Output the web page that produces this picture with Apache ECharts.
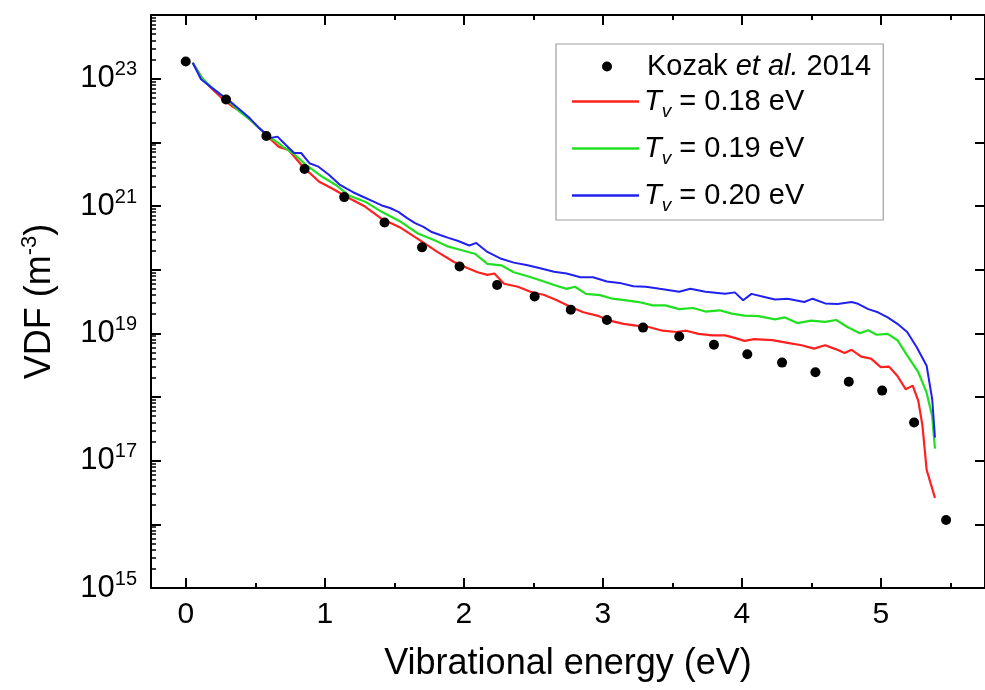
<!DOCTYPE html>
<html>
<head>
<meta charset="utf-8">
<script src="https://cdn.jsdelivr.net/npm/echarts@6.0.0/dist/echarts.min.js"></script>
<style>
html,body{margin:0;padding:0;background:#fff;}
#chart{width:985px;height:690px;}
</style>
</head>
<body>
<div id="chart"></div>
<script>
// ---- Data ----
var kozakEnergy = [0, 0.29, 0.58, 0.855, 1.14, 1.43, 1.70, 1.97, 2.24, 2.51, 2.77, 3.03, 3.29, 3.55, 3.80, 4.04, 4.29, 4.53, 4.77, 5.01, 5.24, 5.47];
var kozakVdf = [1.86e23, 4.7e22, 1.26e22, 3.8e21, 1.38e21, 5.5e20, 2.24e20, 1.12e20, 5.75e19, 3.8e19, 2.34e19, 1.62e19, 1.23e19, 8.9e18, 6.6e18, 4.7e18, 3.47e18, 2.45e18, 1.74e18, 1.26e18, 3.98e17, 1.17e16];

var t018Energy = [0.05,0.12,0.19,0.27,0.34,0.41,0.47,0.53,0.60,0.67,0.74,0.84,0.96,1.05,1.17,1.29,1.41,1.55,1.70,1.81,1.93,2.03,2.10,2.17,2.22,2.29,2.39,2.48,2.58,2.67,2.77,2.86,2.96,3.05,3.15,3.24,3.33,3.43,3.53,3.60,3.69,3.79,3.88,3.95,4.02,4.09,4.22,4.33,4.43,4.52,4.60,4.68,4.74,4.79,4.86,4.93,5.00,5.06,5.12,5.18,5.23,5.27,5.30,5.33,5.39];
var t018Vdf = [1.78e23,1.0e23,6.9e22,4.7e22,3.6e22,2.9e22,2.2e22,1.66e22,1.17e22,8.5e21,7.6e21,4.2e21,2.4e21,1.9e21,1.35e21,9.8e20,6.3e20,4.5e20,2.75e20,1.9e20,1.32e20,1.05e20,9.1e19,8.3e19,8.7e19,6.0e19,5.4e19,4.5e19,4.0e19,3.3e19,2.6e19,2.14e19,1.9e19,1.58e19,1.41e19,1.32e19,1.26e19,1.1e19,1.05e19,1.1e19,9.8e18,9.3e18,9.3e18,8.5e18,7.6e18,8.1e18,7.8e18,7.1e18,6.5e18,5.75e18,6.5e18,5.6e18,4.9e18,5.5e18,4.3e18,4.0e18,2.95e18,3.0e18,2.14e18,1.32e18,1.51e18,8.7e17,3.55e17,7.2e16,2.6e16];

var t019Energy = [0.05,0.12,0.19,0.27,0.33,0.39,0.46,0.53,0.60,0.66,0.70,0.77,0.86,0.98,1.08,1.17,1.29,1.41,1.55,1.67,1.79,1.89,1.98,2.08,2.17,2.27,2.36,2.46,2.55,2.65,2.74,2.80,2.88,2.98,3.07,3.17,3.26,3.36,3.45,3.55,3.65,3.74,3.84,3.93,4.02,4.12,4.24,4.31,4.40,4.50,4.60,4.68,4.76,4.85,4.91,4.97,5.05,5.12,5.19,5.27,5.33,5.37,5.39];
var t019Vdf = [1.78e23,1.0e23,7.2e22,5.25e22,4.0e22,3.0e22,2.3e22,1.66e22,1.2e22,1.0e22,8.5e21,6.8e21,4.5e21,2.9e21,2.14e21,1.48e21,1.17e21,8.1e20,5.6e20,3.7e20,2.9e20,2.3e20,2.04e20,1.78e20,1.23e20,1.17e20,9.1e19,7.9e19,6.8e19,5.75e19,5.0e19,5.4e19,4.17e19,3.98e19,3.5e19,3.3e19,3.1e19,2.75e19,2.75e19,2.4e19,2.5e19,2.2e19,2.3e19,2.04e19,1.9e19,1.86e19,1.66e19,1.78e19,1.45e19,1.58e19,1.51e19,1.62e19,1.26e19,1.0e19,1.12e19,9.5e18,9.8e18,7.8e18,4.5e18,2.45e18,1.17e18,5.0e17,1.55e17];

var t020Energy = [0.05,0.11,0.19,0.27,0.33,0.39,0.46,0.53,0.61,0.66,0.72,0.78,0.83,0.89,0.95,1.03,1.11,1.20,1.27,1.34,1.41,1.47,1.53,1.59,1.65,1.71,1.77,1.83,1.89,1.96,2.04,2.09,2.17,2.27,2.36,2.46,2.55,2.65,2.74,2.84,2.93,3.03,3.12,3.22,3.31,3.41,3.55,3.63,3.74,3.88,3.95,4.01,4.07,4.17,4.24,4.33,4.45,4.51,4.60,4.69,4.79,4.83,4.91,4.98,5.05,5.12,5.19,5.26,5.33,5.37,5.39];
var t020Vdf = [1.78e23,9.8e22,7.1e22,5.25e22,4.2e22,3.24e22,2.4e22,1.66e22,1.17e22,1.23e22,9.1e21,6.8e21,6.8e21,4.7e21,4.2e21,3.1e21,2.14e21,1.66e21,1.41e21,1.2e21,1.02e21,9.3e20,8.1e20,6.5e20,5.4e20,4.7e20,3.9e20,3.5e20,3.16e20,2.82e20,2.4e20,2.63e20,1.9e20,1.48e20,1.29e20,1.17e20,1.05e20,9.3e19,8.7e19,7.6e19,7.6e19,6.5e19,6.2e19,5.5e19,5.4e19,5.0e19,4.5e19,5.0e19,4.5e19,4.17e19,4.4e19,3.3e19,4.17e19,3.7e19,3.4e19,3.5e19,3.1e19,3.5e19,2.95e19,2.9e19,3.1e19,2.95e19,2.4e19,2.14e19,1.78e19,1.41e19,1.05e19,6.0e18,3.1e18,9.3e17,2.3e17];

var seriesNames = ['Kozak et al. 2014', 'Tv = 0.18 eV', 'Tv = 0.19 eV', 'Tv = 0.20 eV'];
var xMajorTicks = [0, 1, 2, 3, 4, 5];
var xMinorTicks = [0.5, 1.5, 2.5, 3.5, 4.5, 5.5];
var yDecadeTicks = [1e15, 1e16, 1e17, 1e18, 1e19, 1e20, 1e21, 1e22, 1e23, 1e24];
var yLabelTicks = [1e15, 1e17, 1e19, 1e21, 1e23];
var yMinorMultipliers = [2, 3, 4, 5, 6, 7, 8, 9];
var xAxisName = 'Vibrational energy (eV)';

function zip(xs, ys) { return xs.map(function (x, i) { return [x, ys[i]]; }); }

// minor log ticks (2..9 x 10^n) for the left axis
var yMinorTicks = [];
yDecadeTicks.slice(0, -1).forEach(function (d) {
  yMinorMultipliers.forEach(function (m) { yMinorTicks.push(m * d); });
});

var FONT = '"Liberation Sans", Arial, Helvetica, sans-serif';
var X_MIN = -0.25, X_MAX = 5.75;
var Y_MIN = 1e15, Y_MAX = 1e24;
var black = '#000';
var LINE_ICON = 'path://M0,0L67,0L67,2.5L0,2.5Z';
var RED = '#ff2020', GREEN = '#20e020', BLUE = '#2020f0';

function xAx(pos, ticks, len, labels, line) {
  return {
    type: 'value', position: pos, min: X_MIN, max: X_MAX, gridIndex: 0,
    axisLine: { show: line, onZero: false, lineStyle: { color: black, width: 2 } },
    axisTick: { show: true, inside: true, length: len, customValues: ticks, lineStyle: { color: black, width: 2 } },
    axisLabel: labels ? { show: true, customValues: ticks, margin: 12, fontSize: 30, color: black, fontFamily: FONT } : { show: false },
    splitLine: { show: false }
  };
}
function yAx(pos, ticks, len, line) {
  return {
    type: 'log', logBase: 10, position: pos, min: Y_MIN, max: Y_MAX,
    axisLine: { show: line, onZero: false, lineStyle: { color: black, width: 2 } },
    axisTick: { show: true, inside: true, length: len, customValues: ticks, lineStyle: { color: black, width: len > 6 ? 2 : 1.5 } },
    axisLabel: { show: false },
    splitLine: { show: false }
  };
}

var legendRich = {
  k0: { fontFamily: FONT, fontSize: 29, color: black, padding: [0, 0, 0, 30] },
  k: { fontFamily: FONT, fontSize: 29, color: black },
  ki: { fontFamily: FONT, fontSize: 29, color: black, fontStyle: 'italic' },
  n: { fontFamily: FONT, fontSize: 29, color: black },
  ti: { fontFamily: FONT, fontSize: 29, color: black, fontStyle: 'italic' },
  sub: { fontFamily: FONT, fontSize: 19, color: black, fontStyle: 'italic', padding: [22, 0, 2, 0] }
};
function legendFormatter(name) {
  if (name === seriesNames[0]) return '{k0|Kozak }{ki|et al.}{k| 2014}';
  return '{ti|T}{sub|v}{n|' + name.replace('Tv', '') + '}';
}

var chart = echarts.init(document.getElementById('chart'), null, { renderer: 'canvas' });
var option = {
  animation: false,
  backgroundColor: '#fff',
  grid: { left: 151, top: 15, width: 841, height: 573, containLabel: false },
  legend: [
    {
      orient: 'vertical', left: 556, top: 44,
      padding: [43, 79, 5, 16], itemGap: 13,
      itemWidth: 67, itemHeight: 10,
      borderColor: '#a0a0a0', borderWidth: 1.2, backgroundColor: '#fff',
      data: [
        { name: seriesNames[1], icon: LINE_ICON },
        { name: seriesNames[2], icon: LINE_ICON },
        { name: seriesNames[3], icon: LINE_ICON }
      ],
      formatter: legendFormatter,
      textStyle: { fontFamily: FONT, fontSize: 29, color: black, rich: legendRich },
      z: 10
    },
    {
      orient: 'vertical', left: 602, top: 52,
      padding: 0, itemGap: 0,
      itemWidth: 10, itemHeight: 10,
      data: [{ name: seriesNames[0], icon: 'circle' }],
      formatter: legendFormatter,
      textStyle: { fontFamily: FONT, fontSize: 29, color: black, rich: legendRich },
      z: 11
    }
  ],
  xAxis: [
    Object.assign(xAx('bottom', xMajorTicks, 10, true, true), {
      name: xAxisName, nameLocation: 'middle', nameGap: 58,
      nameTextStyle: { fontFamily: FONT, fontSize: 36, color: black }
    }),
    xAx('bottom', xMinorTicks, 5, false, false),
    xAx('top', xMajorTicks, 10, false, true),
    xAx('top', xMinorTicks, 5, false, false)
  ],
  yAxis: [
    Object.assign(yAx('left', yDecadeTicks, 10, true), {
      axisLabel: {
        show: true, customValues: yLabelTicks,
        margin: 14, color: black, fontFamily: FONT,
        formatter: function (v) {
          var e = Math.round(Math.log10(v));
          return '{b|10}{s|' + e + '}';
        },
        rich: {
          b: { fontFamily: FONT, fontSize: 31, color: black },
          s: { fontFamily: FONT, fontSize: 20, color: black, padding: [0, 0, 18, 0] }
        }
      },
      name: '{a|VDF (m}{s|-3}{a|)}', nameLocation: 'middle', nameGap: 90, nameRotate: 90,
      nameTextStyle: {
        fontFamily: FONT, fontSize: 36, color: black,
        rich: {
          a: { fontFamily: FONT, fontSize: 36, color: black },
          s: { fontFamily: FONT, fontSize: 22, color: black, padding: [0, 0, 20, 0] }
        }
      }
    }),
    yAx('left', yMinorTicks, 5, false),
    yAx('right', yDecadeTicks, 10, true)
  ],
  series: [
    {
      name: seriesNames[1], type: 'line', xAxisIndex: 0, yAxisIndex: 0,
      data: zip(t018Energy, t018Vdf), symbol: 'none', showSymbol: false,
      lineStyle: { color: RED, width: 2.2 }, itemStyle: { color: RED }, z: 2
    },
    {
      name: seriesNames[2], type: 'line', xAxisIndex: 0, yAxisIndex: 0,
      data: zip(t019Energy, t019Vdf), symbol: 'none', showSymbol: false,
      lineStyle: { color: GREEN, width: 2.2 }, itemStyle: { color: GREEN }, z: 3
    },
    {
      name: seriesNames[3], type: 'line', xAxisIndex: 0, yAxisIndex: 0,
      data: zip(t020Energy, t020Vdf), symbol: 'none', showSymbol: false,
      lineStyle: { color: BLUE, width: 2 }, itemStyle: { color: BLUE }, z: 4
    },
    {
      name: seriesNames[0], type: 'scatter', xAxisIndex: 0, yAxisIndex: 0,
      data: zip(kozakEnergy, kozakVdf), symbol: 'circle', symbolSize: 10,
      itemStyle: { color: black, opacity: 1 }, z: 5
    }
  ]
};
chart.setOption(option);
</script>
</body>
</html>
